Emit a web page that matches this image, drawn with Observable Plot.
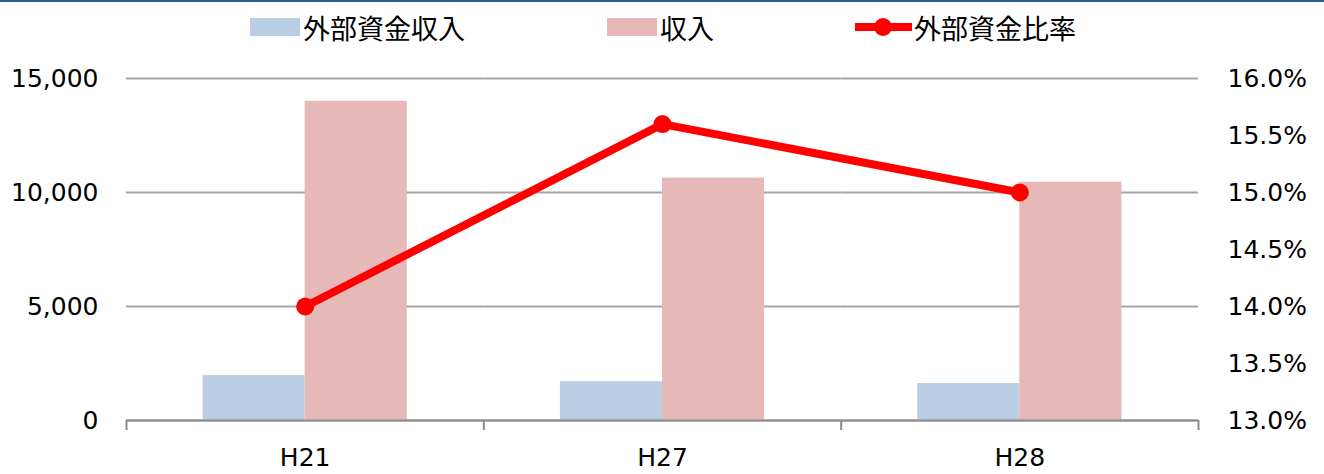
<!DOCTYPE html>
<html><head><meta charset="utf-8">
<script src="https://cdn.jsdelivr.net/npm/d3@7"></script>
<script src="https://cdn.jsdelivr.net/npm/@observablehq/plot@0.6"></script>
<style>
body{margin:0;background:#fff;}
#wrap{position:relative;width:1324px;height:474px;overflow:hidden;font-family:"DejaVu Sans",Verdana,sans-serif;background:#fff;}
#topline{position:absolute;left:0;top:0;width:1324px;height:2px;background:#2e5d8e;}
.layer{position:absolute;left:0;top:0;}
.lg{position:absolute;top:8px;height:38px;display:flex;align-items:center;font-family:"Noto Sans CJK JP","Noto Sans",sans-serif;font-size:27px;color:#000;white-space:nowrap;}
.sw{width:50px;height:18px;margin-right:3px;}
.ln{position:relative;width:57px;height:18px;margin-right:2px;}
.ln .bar{position:absolute;left:0;top:5px;width:57px;height:8px;background:#ff0000;}
.ln .dot{position:absolute;left:19px;top:0;width:18px;height:18px;border-radius:50%;background:#ff0000;}
</style></head>
<body>
<div id="wrap">
  <div id="topline"></div>
  <div id="bars" class="layer"></div>
  <div id="lines" class="layer"></div>
  <div id="legend"></div>
</div>
<script>
const categories = ["H21", "H27", "H28"];
const seriesNames = ["外部資金収入", "収入"];
const lineName = "外部資金比率";
const externalFunds = [1970, 1700, 1620];
const revenue = [14000, 10630, 10450];
const ratio = [14.0, 15.6, 15.0];
const leftTicks = [0, 5000, 10000, 15000];
const rightTicks = [13, 13.5, 14, 14.5, 15, 15.5, 16];
const barColors = ["#b9cde5", "#e6b9b8"];
const lineColor = "#ff0000";

const W = 1324, H = 474;
const margins = {marginTop: 78, marginBottom: 54, marginLeft: 126, marginRight: 126};

const barData = categories.flatMap((c, i) => [
  {cat: c, series: seriesNames[0], value: externalFunds[i]},
  {cat: c, series: seriesNames[1], value: revenue[i]}
]);
const lineData = categories.map((c, i) => ({pos: i + 0.5, cat: c, ratio: ratio[i]}));

const barPlot = Plot.plot({
  width: W, height: H, ...margins,
  style: {fontFamily: "'DejaVu Sans', Verdana, sans-serif", fontSize: "25px", background: "transparent", color: "#000"},
  fx: {domain: categories, padding: 0, axis: null, round: false},
  x: {domain: seriesNames, paddingInner: 0, paddingOuter: 0.75, axis: null, round: false},
  y: {domain: [0, 15000]},
  color: {domain: seriesNames, range: barColors},
  marks: [
    Plot.gridY(leftTicks, {stroke: "#a6a6a6", strokeOpacity: 1, strokeWidth: 2}),
    Plot.barY(barData, {fx: "cat", x: "series", y: "value", fill: "series"}),
    Plot.axisY(leftTicks, {tickSize: 0, tickPadding: 28, tickFormat: d3.format(","), fontSize: 25, fill: "#000", label: null})
  ]
});
document.getElementById("bars").append(barPlot);

const linePlot = Plot.plot({
  width: W, height: H, ...margins,
  style: {fontFamily: "'DejaVu Sans', Verdana, sans-serif", fontSize: "25px", background: "transparent", color: "#000"},
  x: {domain: [0, categories.length]},
  y: {domain: [13, 16]},
  marks: [
    Plot.ruleY([13], {stroke: "#8c8c8c", strokeWidth: 2}),
    Plot.axisX(d3.range(categories.length + 1), {tickSize: 10, tickFormat: () => "", stroke: "#8c8c8c", strokeWidth: 2, label: null}),
    Plot.axisX(lineData.map(d => d.pos), {tickSize: 0, tickPadding: 28, tickFormat: d => categories[Math.floor(d)], fontSize: 25, fill: "#000", label: null}),
    Plot.axisY(rightTicks, {anchor: "right", tickSize: 0, tickPadding: 29, tickFormat: d => d.toFixed(1) + "%", fontSize: 25, fill: "#000", label: null}),
    Plot.line(lineData, {x: "pos", y: "ratio", stroke: lineColor, strokeWidth: 8}),
    Plot.dot(lineData, {x: "pos", y: "ratio", r: 9, fill: lineColor})
  ]
});
document.getElementById("lines").append(linePlot);

// legend
const legend = document.getElementById("legend");
const items = [
  {label: seriesNames[0], type: "box", color: barColors[0], left: 250},
  {label: seriesNames[1], type: "box", color: barColors[1], left: 607},
  {label: lineName, type: "line", color: lineColor, left: 855}
];
for (const it of items) {
  const d = document.createElement("div");
  d.className = "lg";
  d.style.left = it.left + "px";
  if (it.type === "box") {
    const s = document.createElement("div");
    s.className = "sw"; s.style.background = it.color;
    d.append(s);
  } else {
    const s = document.createElement("div");
    s.className = "ln";
    s.innerHTML = '<div class="bar"></div><div class="dot"></div>';
    d.append(s);
  }
  const t = document.createElement("span");
  t.textContent = it.label;
  d.append(t);
  legend.append(d);
}
</script>
</body></html>
